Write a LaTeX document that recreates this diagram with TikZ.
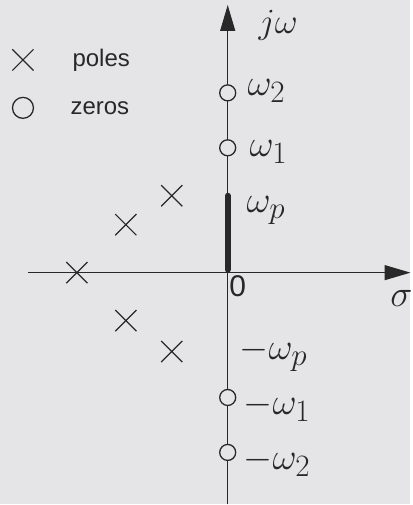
\documentclass[tikz,border=0pt]{standalone}
\usepackage[no-math]{fontspec}
\setmainfont{Liberation Sans}
\usetikzlibrary{arrows.meta,shapes.misc}
\definecolor{paper}{RGB}{229,229,231}
\definecolor{ink}{RGB}{40,40,40}

\begin{document}
\begin{tikzpicture}[x=1pt, y=1pt, color=ink, line width=1.3pt, >={Triangle[length=26pt, width=15pt]},
	pole/.style={cross out, draw, minimum size=20pt, inner sep=0pt, line width=1.2pt},
	zero/.style={circle, draw, fill=paper, minimum size=16pt, inner sep=0pt, line width=1.3pt},
	lbl/.style={anchor=west, inner sep=0pt, font=\fontsize{24.88}{30}\selectfont, scale=1.5, transform shape},
	txt/.style={anchor=west, inner sep=0pt, font=\fontsize{24}{28}\selectfont}]
	\fill[paper] (-228,-232) rectangle (183,273);
	% axes
	\coordinate (O) at (0,0);
	\coordinate (west) at (-200,0);
	\coordinate (east) at (183,0);
	\coordinate (south) at (0,-232);
	\coordinate (north) at (0,268);
	\coordinate (wp) at (0,77);
	\draw[->] (west) -- (east);
	\draw[->] (south) -- (north);
	\draw[line width=6pt, line cap=round] ([yshift=3pt]O) -- (wp);
	% zeros and poles
	\foreach \y/\n in {180/z2, 125/z1, -125/zm1, -180/zm2} {\node[zero] (\n) at (0,\y) {};}
	\foreach \x/\y [count=\i] in {-151/0, -102/48, -56/77, -102/-48, -56/-79} {\node[pole] (p\i) at (\x,\y) {};}
	% labels
	\node[lbl, scale=0.95] (jw) at (30,248) {$j\omega$};
	\node[lbl] (w2) at (19,182) {$\omega_2$};
	\node[lbl] (w1) at (21,121) {$\omega_1$};
	\node[lbl] (wpl) at (18,62) {$\omega_p$};
	\node[txt, font=\fontsize{30}{34}\selectfont] (zero0) at (1,-14) {0};
	\node[lbl] (sig) at (162,-26) {$\sigma$};
	\node[lbl] (mwp) at (11,-82) {$-\omega_p$};
	\node[lbl] (mw1) at (15,-135) {$-\omega_1$};
	\node[lbl] (mw2) at (15,-190) {$-\omega_2$};
	% legend
	\node[pole] (kp) at (-205,213) {};
	\node[txt] (kpt) at (-156,213) {poles};
	\node[zero, minimum size=21pt] (kz) at (-205,165) {};
	\node[txt] (kzt) at (-158,165) {zeros};
\end{tikzpicture}
\end{document}
